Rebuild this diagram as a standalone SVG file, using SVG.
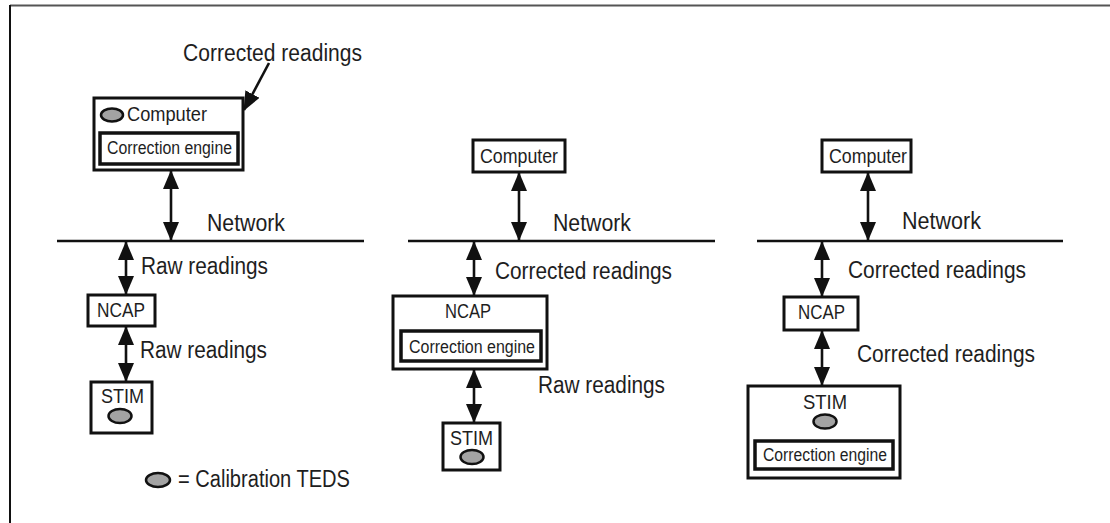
<svg xmlns="http://www.w3.org/2000/svg" width="1110" height="523" viewBox="0 0 1110 523">
  <style>
    .box { fill: #fff; stroke: #111; stroke-width: 3; }
    .inner { fill: #fff; stroke: #111; stroke-width: 3.5; }
    .teds { fill: #a3a3a3; stroke: #111; stroke-width: 2.5; }
    .net { stroke: #111; stroke-width: 2.5; fill: none; }
    .link { stroke: #111; stroke-width: 2.6; fill: none; marker-start: url(#head); marker-end: url(#head); }
    .pointer { stroke: #111; stroke-width: 2.6; fill: none; marker-end: url(#head); }
    .lbl { font-family: "Liberation Sans", Arial, sans-serif; font-size: 23px; fill: #1e1e1e; }
    .name { font-family: "Liberation Sans", Arial, sans-serif; font-size: 20px; fill: #1e1e1e; }
    .eng { font-family: "Liberation Sans", Arial, sans-serif; font-size: 17.5px; fill: #1e1e1e; }
  </style>
  <defs>
    <marker id="head" markerUnits="userSpaceOnUse" viewBox="0 0 19 16" markerWidth="19" markerHeight="16" refX="18" refY="8" orient="auto-start-reverse">
      <path d="M0,0 L19,8 L0,16 Z" fill="#111"/>
    </marker>
  </defs>

  <rect width="1110" height="523" fill="#fff"/>
  <!-- page frame -->
  <line x1="10" y1="5.5" x2="1110" y2="5.5" stroke="#555" stroke-width="2"/>
  <line x1="10" y1="5" x2="10" y2="523" stroke="#111" stroke-width="2"/>

  <!-- network buses -->
  <g id="networks">
    <line class="net" x1="57" y1="241" x2="364" y2="241"/>
    <text class="lbl" x="207" y="231" textLength="78" lengthAdjust="spacingAndGlyphs">Network</text>
    <line class="net" x1="408" y1="241" x2="715" y2="241"/>
    <text class="lbl" x="553" y="231" textLength="78" lengthAdjust="spacingAndGlyphs">Network</text>
    <line class="net" x1="757" y1="241" x2="1063" y2="241"/>
    <text class="lbl" x="902" y="229" textLength="79" lengthAdjust="spacingAndGlyphs">Network</text>
  </g>

  <!-- connectors -->
  <g id="connectors">
    <path class="pointer" d="M269,63 L244,110"/>
    <text class="lbl" x="183" y="61" textLength="179" lengthAdjust="spacingAndGlyphs">Corrected readings</text>

    <line class="link" x1="171" y1="171" x2="171" y2="240"/>
    <line class="link" x1="126" y1="242" x2="126" y2="294"/>
    <text class="lbl" x="141" y="274" textLength="127" lengthAdjust="spacingAndGlyphs">Raw readings</text>
    <line class="link" x1="126" y1="327" x2="126" y2="381"/>
    <text class="lbl" x="140" y="358" textLength="127" lengthAdjust="spacingAndGlyphs">Raw readings</text>

    <line class="link" x1="519" y1="173" x2="519" y2="240"/>
    <line class="link" x1="474" y1="242" x2="474" y2="295"/>
    <text class="lbl" x="495" y="279" textLength="177" lengthAdjust="spacingAndGlyphs">Corrected readings</text>
    <line class="link" x1="474" y1="370" x2="474" y2="422"/>
    <text class="lbl" x="538" y="393" textLength="127" lengthAdjust="spacingAndGlyphs">Raw readings</text>

    <line class="link" x1="868" y1="173" x2="868" y2="240"/>
    <line class="link" x1="822" y1="242" x2="822" y2="296"/>
    <text class="lbl" x="848" y="278" textLength="178" lengthAdjust="spacingAndGlyphs">Corrected readings</text>
    <line class="link" x1="822" y1="331" x2="822" y2="385"/>
    <text class="lbl" x="857" y="362" textLength="178" lengthAdjust="spacingAndGlyphs">Corrected readings</text>
  </g>

  <!-- first arrangement: correction in the computer -->
  <g id="computer-1">
    <rect class="box" x="94" y="98" width="149" height="72"/>
    <ellipse class="teds" cx="112" cy="115" rx="11" ry="6.5"/>
    <text class="name" x="127" y="121" textLength="80" lengthAdjust="spacingAndGlyphs">Computer</text>
    <rect class="inner" x="100" y="133" width="138" height="31"/>
    <text class="eng" x="107" y="154" textLength="125" lengthAdjust="spacingAndGlyphs">Correction engine</text>
  </g>
  <g id="ncap-1">
    <rect class="box" x="88" y="295" width="67" height="31"/>
    <text class="name" x="97" y="317" textLength="48" lengthAdjust="spacingAndGlyphs">NCAP</text>
  </g>
  <g id="stim-1">
    <rect class="box" x="91" y="382" width="61" height="51"/>
    <text class="name" x="101" y="403" textLength="43" lengthAdjust="spacingAndGlyphs">STIM</text>
    <ellipse class="teds" cx="120" cy="416" rx="11.5" ry="7"/>
  </g>
  <g id="legend">
    <ellipse class="teds" cx="158" cy="480" rx="12" ry="7"/>
    <text class="lbl" x="178" y="487" textLength="172" lengthAdjust="spacingAndGlyphs">= Calibration TEDS</text>
  </g>

  <!-- second arrangement: correction in the NCAP -->
  <g id="computer-2">
    <rect class="box" x="473" y="140" width="92" height="32"/>
    <text class="name" x="480" y="163" textLength="78" lengthAdjust="spacingAndGlyphs">Computer</text>
  </g>
  <g id="ncap-2">
    <rect class="box" x="393" y="296" width="154" height="73"/>
    <text class="name" x="445" y="318" textLength="46" lengthAdjust="spacingAndGlyphs">NCAP</text>
    <rect class="inner" x="401" y="331" width="140" height="30"/>
    <text class="eng" x="409" y="353" textLength="126" lengthAdjust="spacingAndGlyphs">Correction engine</text>
  </g>
  <g id="stim-2">
    <rect class="box" x="443" y="423" width="57" height="47"/>
    <text class="name" x="450" y="445" textLength="43" lengthAdjust="spacingAndGlyphs">STIM</text>
    <ellipse class="teds" cx="472" cy="457" rx="11.5" ry="7"/>
  </g>

  <!-- third arrangement: correction in the STIM -->
  <g id="computer-3">
    <rect class="box" x="822" y="140" width="89" height="32"/>
    <text class="name" x="829" y="163" textLength="78" lengthAdjust="spacingAndGlyphs">Computer</text>
  </g>
  <g id="ncap-3">
    <rect class="box" x="784" y="297" width="74" height="33"/>
    <text class="name" x="798" y="319" textLength="47" lengthAdjust="spacingAndGlyphs">NCAP</text>
  </g>
  <g id="stim-3">
    <rect class="box" x="748" y="386" width="152" height="92"/>
    <text class="name" x="803" y="409" textLength="44" lengthAdjust="spacingAndGlyphs">STIM</text>
    <ellipse class="teds" cx="825" cy="421.5" rx="11.5" ry="7"/>
    <rect class="inner" x="755" y="441" width="138" height="28"/>
    <text class="eng" x="763" y="461" textLength="124" lengthAdjust="spacingAndGlyphs">Correction engine</text>
  </g>
</svg>
